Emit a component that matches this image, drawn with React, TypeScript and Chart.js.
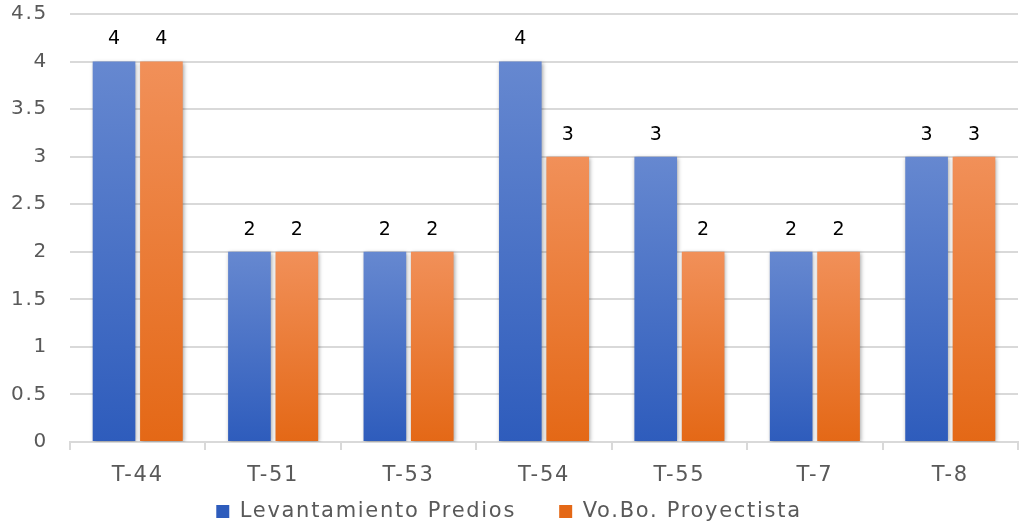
import React, { useEffect, useRef } from "react";
import { Chart, registerables } from "chart.js";

Chart.register(...registerables);

const categories = ["T-44", "T-51", "T-53", "T-54", "T-55", "T-7", "T-8"];
const levantamiento = [4, 2, 2, 4, 3, 2, 3];
const voboProyectista = [4, 2, 2, 3, 2, 2, 3];
const seriesNames = ["Levantamiento Predios", "Vo.Bo. Proyectista"];

const FONT = "'DejaVu Sans', sans-serif";
const SPACING = "1.7px";

const gradientFor = (top: string, bottom: string, legendColor: string) => (ctx: any) => {
  const chart = ctx.chart;
  const area = chart.chartArea;
  if (ctx.type !== "data" || !area) return legendColor;
  const y = chart.scales.y;
  const v = ctx.raw as number;
  const y0 = y.getPixelForValue(v);
  const y1 = y.getPixelForValue(0);
  if (!isFinite(y0) || !isFinite(y1) || y0 === y1) return legendColor;
  const g = chart.ctx.createLinearGradient(0, y0, 0, y1);
  g.addColorStop(0, top);
  g.addColorStop(1, bottom);
  return g;
};

const spacingPlugin = {
  id: "letterSpacing",
  beforeUpdate(chart: any) {
    chart.ctx.letterSpacing = SPACING;
  },
  beforeDraw(chart: any) {
    chart.ctx.letterSpacing = SPACING;
  },
};

const shadowPlugin = {
  id: "barShadow",
  beforeDatasetsDraw(chart: any) {
    const c = chart.ctx;
    c.save();
    c.shadowColor = "rgba(0,0,0,0.35)";
    c.shadowBlur = 4;
    c.shadowOffsetX = 1;
    c.shadowOffsetY = 1;
  },
  afterDatasetsDraw(chart: any) {
    chart.ctx.restore();
  },
};

const labelPlugin = {
  id: "valueLabels",
  afterDatasetsDraw(chart: any) {
    const c = chart.ctx;
    c.save();
    c.letterSpacing = "0px";
    c.font = `19px ${FONT}`;
    c.fillStyle = "#000000";
    c.textAlign = "center";
    c.textBaseline = "middle";
    chart.data.datasets.forEach((ds: any, i: number) => {
      const meta = chart.getDatasetMeta(i);
      meta.data.forEach((el: any, j: number) => {
        c.fillText(String(ds.data[j]), el.x, el.y - 22);
      });
    });
    c.restore();
  },
};

export default function App() {
  const ref = useRef<HTMLCanvasElement | null>(null);
  useEffect(() => {
    document.body.style.margin = "0";
    if (!ref.current) return;
    const chart = new Chart(ref.current, {
      type: "bar",
      data: {
        labels: categories,
        datasets: [
          {
            label: seriesNames[0],
            data: levantamiento,
            backgroundColor: gradientFor("#6688d0", "#2e5cbc", "#3d68c4"),
            borderWidth: 0,
            categoryPercentage: 0.7,
            barPercentage: 0.9,
          },
          {
            label: seriesNames[1],
            data: voboProyectista,
            backgroundColor: gradientFor("#f19059", "#e46816", "#ec7a30"),
            borderWidth: 0,
            categoryPercentage: 0.7,
            barPercentage: 0.9,
          },
        ],
      },
      options: {
        animation: false,
        responsive: false,
        devicePixelRatio: 1,
        layout: { padding: { top: 0, right: 2, left: 0, bottom: -3 } },
        scales: {
          x: {
            afterFit: (scale: any) => {
              scale.height = 41;
            },
            grid: {
              display: true,
              drawOnChartArea: false,
              tickLength: 8,
              color: "#d9d9d9",
              lineWidth: 2,
            },
            border: { display: true, color: "#d9d9d9", width: 2 },
            ticks: {
              color: "#595959",
              font: { family: FONT, size: 21 },
              padding: 13,
            },
          },
          y: {
            min: 0,
            max: 4.5,
            afterFit: (scale: any) => {
              scale.width = 70;
            },
            ticks: {
              stepSize: 0.5,
              color: "#595959",
              font: { family: FONT, size: 20 },
              padding: 2,
              callback: (v: any) => String(Number(v)),
            },
            grid: {
              color: "#d9d9d9",
              lineWidth: 2,
              drawTicks: true,
              tickLength: 20,
              tickColor: "rgba(0,0,0,0)",
            },
            border: { display: false },
          },
        },
        plugins: {
          legend: {
            position: "bottom",
            labels: {
              color: "#595959",
              font: { family: FONT, size: 21 },
              boxWidth: 13,
              boxHeight: 13,
              padding: 18,
              generateLabels: (ch: any) => {
                const items = Chart.defaults.plugins.legend.labels.generateLabels(ch);
                return items.map((it: any, i: number) =>
                  i < items.length - 1 ? { ...it, text: it.text + "   " } : it
                );
              },
            },
          },
          tooltip: { enabled: false },
        },
      },
      plugins: [spacingPlugin, shadowPlugin, labelPlugin],
    });
    return () => chart.destroy();
  }, []);
  return (
    <div style={{ width: 1020, height: 529 }}>
      <canvas ref={ref} width={1020} height={529} style={{ display: "block" }} />
    </div>
  );
}
